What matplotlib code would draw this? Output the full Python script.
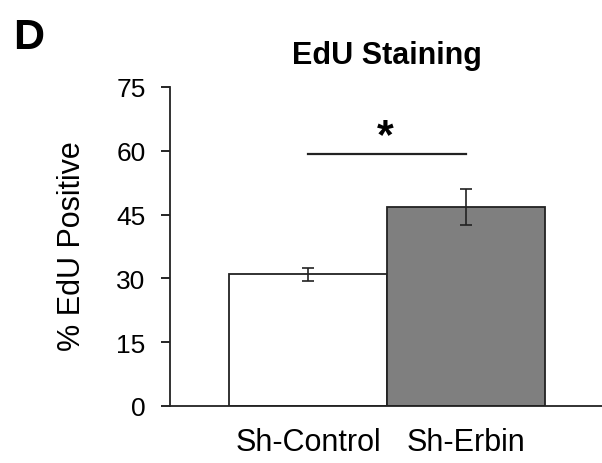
import matplotlib
matplotlib.use('Agg')
import matplotlib.pyplot as plt
import numpy as np

labels = ['Sh-Control', 'Sh-Erbin']
values = [31.0, 46.8]
errors = [1.5, 4.3]
colors = ['white', '#7f7f7f']
yticks = [0, 15, 30, 45, 60, 75]
sig_level = 59.3

plt.rcParams['font.family'] = ['Liberation Sans', 'DejaVu Sans']

fig = plt.figure(figsize=(6.02, 4.64), dpi=100)
ax = fig.add_axes([170/602, 1 - 407/464, 1 - 170/602, (407 - 88)/464])

x = np.arange(len(labels))
ax.bar(x, values, width=1.0, color=colors, edgecolor='#222222', linewidth=1.3,
       yerr=errors, capsize=4, error_kw={'elinewidth': 1.2, 'capthick': 1.2, 'ecolor': '#222222'})

# significance bar
ax.plot([x[0], x[1]], [sig_level, sig_level], color='#222222', lw=1.6, clip_on=False)
ax.text((x[0] + x[1]) / 2 - 0.01, sig_level + 1.5, '*', ha='center', va='baseline',
        fontsize=31, fontweight='bold')

ax.set_xlim(-0.873, 1.861)
ax.set_ylim(0, 75)
ax.set_yticks(yticks)
ax.set_xticks(x)
ax.set_xticklabels(labels, fontsize=22)
ax.tick_params(axis='y', labelsize=19, length=6.5, width=1.2, direction='out', pad=11)
ax.tick_params(axis='x', length=0, pad=15)
for s in ['top', 'right']:
    ax.spines[s].set_visible(False)
for s in ['left', 'bottom']:
    ax.spines[s].set_linewidth(1.3)
    ax.spines[s].set_color('#222222')

fig.text(72/602, 1 - 246/464, '% EdU Positive', rotation=90, ha='center', va='center', fontsize=22)
fig.text(387/602, 1 - 64/464, 'EdU Staining', ha='center', va='baseline', fontsize=22, fontweight='bold')
fig.text(28.5/602, 1 - 49/464, 'D', ha='center', va='baseline', fontsize=31, fontweight='bold')

fig.savefig('out.png', dpi=100)
